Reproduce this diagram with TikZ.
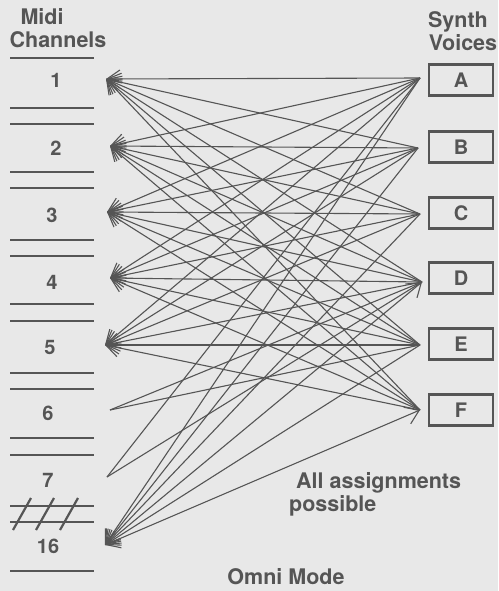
\documentclass[tikz,border=0pt]{standalone}
\usepackage{fontspec}
\setmainfont{TeX Gyre Heros}
\usetikzlibrary{arrows.meta}
\definecolor{PaperGrey}{HTML}{E8E8E8}
\definecolor{InkGrey}{HTML}{555555}
\tikzset{
    % Text styles
    headlabel/.style={
        font=\fontsize{21.5}{23}\selectfont\bfseries,
        text=InkGrey,
        inner sep=0pt
    },
    chanlabel/.style={
        font=\fontsize{20}{22}\selectfont\bfseries,
        text=InkGrey,
        inner sep=0pt
    },
    % Voice boxes
    voicebox/.style={
        rectangle,
        draw=InkGrey,
        line width=2.2pt,
        minimum width=64pt,
        minimum height=31pt,
        font=\fontsize{20}{22}\selectfont\bfseries,
        text=InkGrey
    },
    % Lines
    chanrule/.style={
        InkGrey,
        line width=2.4pt
    },
    assignline/.style={
        -{Straight Barb[length=13pt,width=18pt]},
        InkGrey,
        line width=1.1pt
    },
    bothline/.style={
        {Straight Barb[length=13pt,width=18pt]}-{Straight Barb[length=13pt,width=18pt]},
        InkGrey,
        line width=1.1pt
    },
    plainline/.style={
        InkGrey,
        line width=1.1pt
    }
}

\begin{document}
\begin{tikzpicture}[x=1pt,y=-1pt]
    \fill[PaperGrey] (0,0) rectangle (498,591);
    \useasboundingbox (0,0) rectangle (498,591);

    % Headings
    \node[headlabel] (midi) at (42,17) {Midi};
    \node[headlabel] (chans) at (58,40) {Channels};
    \node[headlabel] (synth) at (458,22) {Synth};
    \node[headlabel] (voices) at (463,43) {Voices};

    % Channel rules
    \foreach \y in {58,108,124,172,188,240,256,304,321,373,389,438,455,506,522,571}
        \draw[chanrule] (10,\y) -- (94,\y);
    \foreach \x in {22,45,69}
        \draw[chanrule, line width=2.2pt] (\x-9,530) -- (\x+9,498);

    % Channel numbers
    \node[chanlabel] (n1) at (56,80) {1};
    \node[chanlabel] (n2) at (56,148) {2};
    \node[chanlabel] (n3) at (52,215) {3};
    \node[chanlabel] (n4) at (52,282) {4};
    \node[chanlabel] (n5) at (50,347) {5};
    \node[chanlabel] (n6) at (48,413) {6};
    \node[chanlabel] (n7) at (48,480) {7};
    \node[chanlabel] (n16) at (48,546) {16};

    % Line ends at the channels
    \coordinate (c1) at (106,79);
    \coordinate (c2) at (110,146);
    \coordinate (c3) at (107,212);
    \coordinate (c4) at (110,278);
    \coordinate (c5) at (105,345);
    \coordinate (c6) at (110,410);
    \coordinate (c7) at (107,477);
    \coordinate (c16) at (105,545);

    % Synth voices
    \node[voicebox] (vA) at (461,80) {A};
    \node[voicebox] (vB) at (461,147) {B};
    \node[voicebox] (vC) at (461,213) {C};
    \node[voicebox] (vD) at (461,278) {D};
    \node[voicebox] (vE) at (461,344) {E};
    \node[voicebox] (vF) at (461,410) {F};

    % Line ends at the voices
    \coordinate (pA) at (420,78);
    \coordinate (pB) at (418,148);
    \coordinate (pC) at (420,214);
    \coordinate (pD) at (422,282);
    \coordinate (pE) at (420,345);
    \coordinate (pF) at (420,410);

    % Assignments
    \foreach \c in {c1,c2,c3,c4,c5}
        \foreach \p in {pA,pB,pC,pD,pE,pF}
            \draw[assignline] (\p) -- (\c);
    \foreach \p in {pA,pB,pC,pE}
        \draw[assignline] (\p) -- (c16);
    \draw[bothline] (pD) -- (c16);
    \draw[bothline] (pF) -- (c16);
    \draw[plainline] (pD) -- (c6);
    \draw[plainline] (pE) -- (c6);
    \draw[plainline] (pA) -- (c7);
    \draw[plainline] (pD) -- (c7);

    % Notes
    \node[headlabel, anchor=west] (note1) at (296,483) {All assignments};
    \node[headlabel, anchor=west] (note2) at (289,506) {possible};
    \node[headlabel] (omni) at (286,577) {Omni Mode};
\end{tikzpicture}
\end{document}
